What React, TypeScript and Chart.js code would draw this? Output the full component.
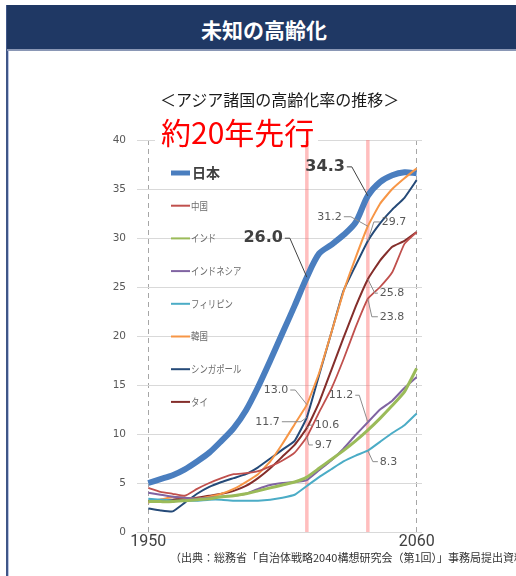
import React, { useEffect, useRef } from "react";
import { Chart, registerables } from "chart.js";

Chart.register(...registerables);

// ---- data ----
const years = [1950, 1955, 1960, 1965, 1970, 1975, 1980, 1985, 1990, 1995, 2000, 2005, 2010, 2015, 2020, 2025, 2030, 2035, 2040, 2045, 2050, 2055, 2060];
const japan = [5.0, 5.4, 5.8, 6.4, 7.2, 8.1, 9.3, 10.6, 12.4, 14.8, 17.5, 20.3, 23.1, 26.0, 28.4, 29.3, 30.3, 31.6, 34.3, 35.7, 36.4, 36.7, 36.6];
const china = [4.5, 4.1, 3.9, 3.7, 4.4, 5.0, 5.5, 5.9, 6.0, 6.2, 6.7, 7.3, 8.1, 9.7, 12.2, 14.6, 17.6, 20.9, 23.8, 25.0, 26.5, 29.4, 30.6];
const india = [3.1, 3.1, 3.1, 3.2, 3.3, 3.4, 3.6, 3.7, 3.9, 4.2, 4.5, 4.8, 5.1, 5.6, 6.5, 7.4, 8.3, 9.3, 10.4, 11.6, 12.9, 14.3, 16.7];
const indonesia = [4.0, 3.8, 3.6, 3.5, 3.4, 3.5, 3.6, 3.7, 3.9, 4.4, 4.8, 5.0, 5.1, 5.3, 6.3, 7.3, 8.5, 9.9, 11.2, 12.5, 13.4, 14.7, 15.8];
const philippines = [3.4, 3.3, 3.2, 3.2, 3.2, 3.3, 3.3, 3.2, 3.2, 3.2, 3.3, 3.5, 3.8, 4.7, 5.6, 6.4, 7.2, 7.8, 8.3, 9.2, 10.1, 10.9, 12.1];
const korea = [3.0, 3.3, 3.6, 3.5, 3.4, 3.6, 3.9, 4.4, 5.1, 5.9, 7.2, 9.0, 11.0, 13.0, 16.2, 20.3, 24.5, 28.0, 31.2, 33.5, 35.0, 36.1, 37.1];
const singapore = [2.4, 2.2, 2.1, 3.0, 3.9, 4.6, 5.1, 5.5, 5.9, 6.6, 7.5, 8.4, 9.3, 11.7, 16.0, 20.3, 24.6, 27.2, 29.7, 31.5, 32.9, 34.1, 35.9];
const thailand = [3.2, 3.3, 3.3, 3.4, 3.5, 3.7, 3.9, 4.2, 4.7, 5.5, 6.5, 7.7, 8.9, 10.6, 13.2, 16.5, 19.8, 23.0, 25.8, 27.7, 29.1, 29.7, 30.6];

const seriesNames = ["日本", "中国", "インド", "インドネシア", "フィリピン", "韓国", "シンガポール", "タイ"];
const seriesValues = [japan, china, india, indonesia, philippines, korea, singapore, thailand];
const yTicks = [0, 5, 10, 15, 20, 25, 30, 35, 40];
const xTickLabels = [1950, 2060];
const markerYears = [2015, 2040];

// ---- styles ----
const colors = ["#4a7ebf", "#c0504d", "#9bbb59", "#8064a2", "#4bacc6", "#f79646", "#254a78", "#842e2b"];
const widths = [6, 1.8, 3, 2, 2, 2, 2, 2];

// label annotations: series index, year, offset of label anchor from point
const labelSpecs = [
  { s: 0, year: 2015, dx: -24, dy: -39, side: "left", bold: true, elbow: 5 },
  { s: 0, year: 2040, dx: -23, dy: -29, side: "left", bold: true, elbow: 5 },
  { s: 5, year: 2040, dx: -26, dy: -9.5, side: "left", elbow: 7 },
  { s: 6, year: 2040, dx: 14, dy: -19, side: "right", elbow: 6 },
  { s: 7, year: 2040, dx: 12, dy: 14, side: "right", elbow: 3 },
  { s: 1, year: 2040, dx: 12, dy: 18, side: "right", elbow: 6 },
  { s: 5, year: 2015, dx: -18.6, dy: -14.6, side: "left", elbow: 5 },
  { s: 6, year: 2015, dx: -27, dy: 4.4, side: "left", elbow: 19 },
  { s: 7, year: 2015, dx: 8, dy: -3, side: "right", elbow: 3 },
  { s: 1, year: 2015, dx: 8, dy: 8, side: "right", elbow: 4 },
  { s: 3, year: 2040, dx: -14.6, dy: -27, side: "left", elbow: 4 },
  { s: 4, year: 2040, dx: 12, dy: 11, side: "right", elbow: 5 },
];

const overlayPlugin = {
  id: "overlay",
  beforeDatasetsDraw(chart: any) {
    const { ctx, chartArea, scales } = chart;
    const x = scales.x;
    ctx.save();
    ctx.strokeStyle = "rgba(255,110,110,0.45)";
    ctx.lineWidth = 3.5;
    markerYears.forEach((yr) => {
      const px = x.getPixelForValue(yr);
      ctx.beginPath();
      ctx.moveTo(px, chartArea.top);
      ctx.lineTo(px, chartArea.bottom);
      ctx.stroke();
    });
    ctx.restore();
  },
  afterDatasetsDraw(chart: any) {
    const { ctx, scales } = chart;
    const x = scales.x;
    const y = scales.y;
    ctx.save();
    // legend
    const lx0 = 171, lx1 = 190, ly0 = 173, lstep = 32.7;
    seriesNames.forEach((name, i) => {
      const yy = ly0 + i * lstep;
      ctx.strokeStyle = colors[i];
      ctx.lineWidth = i === 0 ? 5 : 2;
      ctx.beginPath();
      ctx.moveTo(lx0, yy);
      ctx.lineTo(lx1, yy);
      ctx.stroke();
      ctx.textBaseline = "middle";
      ctx.textAlign = "left";
      if (i === 0) {
        ctx.fillStyle = "#404040";
        ctx.font = 'bold 14px "Noto Sans CJK JP"';
        ctx.fillText(name, 192, yy);
      } else {
        ctx.save();
        ctx.fillStyle = "#6b6b6b";
        ctx.font = '10.5px "Noto Sans CJK JP"';
        ctx.translate(191, yy);
        ctx.scale(0.8, 1);
        ctx.fillText(name, 0, 0);
        ctx.restore();
      }
    });
    // value labels
    labelSpecs.forEach((l) => {
      const idx = years.indexOf(l.year);
      const v = seriesValues[l.s][idx];
      const px = x.getPixelForValue(l.year);
      const py = y.getPixelForValue(v);
      const ax = px + l.dx;
      const ay = py + l.dy;
      const dir = l.side === "left" ? 1 : -1;
      ctx.strokeStyle = l.bold ? "#404040" : "#8c8c8c";
      ctx.lineWidth = 1;
      ctx.beginPath();
      ctx.moveTo(ax + 2 * dir, ay);
      ctx.lineTo(ax + (2 + l.elbow) * dir, ay);
      ctx.lineTo(px, py);
      ctx.stroke();
      ctx.fillStyle = l.bold ? "#404040" : "#595959";
      ctx.font = l.bold ? 'bold 16px "DejaVu Sans"' : '11px "DejaVu Sans"';
      ctx.textBaseline = "middle";
      ctx.textAlign = l.side === "left" ? "right" : "left";
      ctx.fillText(v.toFixed(1), ax, ay);
    });
    ctx.restore();
  },
};

export default function App() {
  const ref = useRef<HTMLCanvasElement | null>(null);
  useEffect(() => {
    if (!ref.current) return;
    const chart = new Chart(ref.current, {
      type: "line",
      data: {
        datasets: seriesValues.map((vals, i) => ({
          label: seriesNames[i],
          data: years.map((yr, j) => ({ x: yr, y: vals[j] })),
          borderColor: colors[i],
          backgroundColor: colors[i],
          borderWidth: widths[i],
          pointRadius: 0,
          tension: i === 0 ? 0.3 : 0.12,
          fill: false,
          order: i === 0 ? 10 : 0,
        })),
      },
      options: {
        responsive: false,
        animation: false,
        layout: { padding: { left: 0, right: 94, top: 140, bottom: 14 } },
        plugins: { legend: { display: false }, tooltip: { enabled: false } },
        scales: {
          x: {
            type: "linear",
            min: 1945.25,
            max: 2062.2,
            afterBuildTicks: (s: any) => {
              s.ticks = xTickLabels.map((v) => ({ value: v }));
            },
            afterFit: (s: any) => {
              s.height = 30;
            },
            grid: { color: "#a6a6a6", lineWidth: 1, drawTicks: false },
            border: { display: false, dash: [5, 4] },
            ticks: {
              padding: 0,
              color: "#404040",
              font: { family: '"Liberation Sans Narrow", Roboto, sans-serif', size: 16 },
              callback: (v: any) => String(v),
              maxRotation: 0,
            },
          },
          y: {
            min: 0,
            max: 40,
            afterBuildTicks: (s: any) => {
              s.ticks = yTicks.map((v) => ({ value: v }));
            },
            afterFit: (s: any) => {
              s.width = 136.7;
            },
            grid: { color: "#d9d9d9", lineWidth: 1, drawTicks: false },
            border: { display: false },
            ticks: {
              padding: 10.7,
              color: "#595959",
              font: { family: '"DejaVu Sans"', size: 10.5 },
            },
          },
        },
      },
      plugins: [overlayPlugin],
    } as any);
    return () => chart.destroy();
  }, []);

  const jp = '"Noto Sans CJK JP", sans-serif';
  return (
    <div style={{ position: "fixed", left: 0, top: 0, width: 516, height: 576, overflow: "hidden", background: "#fff", fontFamily: jp }}>
      <div style={{ position: "absolute", left: 6, top: 5, width: 2, height: 571, background: "#3f5688" }} />
      <div style={{ position: "absolute", left: 8, top: 5, width: 1, height: 571, background: "#b9c5e2" }} />
      <div style={{ position: "absolute", left: 7, top: 5, width: 509, height: 44, background: "#1f3864", borderBottom: "2px solid #8a97b5" }} />
      <div style={{ position: "absolute", left: 7, top: 19, width: 514, textAlign: "center", color: "#fff", fontWeight: 700, fontSize: 21, lineHeight: "21px", whiteSpace: "nowrap" }}>
        未知の高齢化
      </div>
      <canvas ref={ref} width={516} height={576} style={{ position: "absolute", left: 0, top: 0, width: 516, height: 576 }} />
      <div style={{ position: "absolute", left: 160, top: 91, fontSize: 16, lineHeight: "16px", color: "#1a1a1a", whiteSpace: "nowrap" }}>
        ＜アジア諸国の高齢化率の推移＞
      </div>
      <div style={{ position: "absolute", left: 155, top: 114, width: 163, height: 27, background: "#fff" }} />
      <div style={{ position: "absolute", left: 161, top: 116, fontSize: 30, lineHeight: "30px", color: "#ff0000", whiteSpace: "nowrap" }}>
        約20年先行
      </div>
      <div style={{ position: "absolute", left: 170, top: 552, fontSize: 11, lineHeight: "11px", color: "#333", whiteSpace: "nowrap" }}>
        （出典：総務省「自治体戦略2040構想研究会（第1回）」事務局提出資料）
      </div>
    </div>
  );
}
